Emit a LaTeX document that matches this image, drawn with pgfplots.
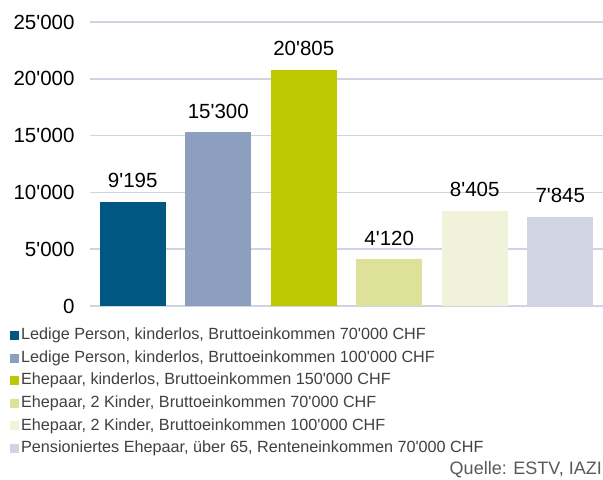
\documentclass[border=0pt]{standalone}
\usepackage{fontspec}
\setmainfont{Liberation Sans}
\usepackage{pgfplots}
\pgfplotsset{compat=1.18}

\definecolor{c1}{RGB}{0,88,130}
\definecolor{c2}{RGB}{140,159,191}
\definecolor{c3}{RGB}{189,200,0}
\definecolor{c4}{RGB}{222,225,154}
\definecolor{c5}{RGB}{240,242,218}
\definecolor{c6}{RGB}{209,213,227}
\definecolor{gridc}{RGB}{208,212,226}
\definecolor{legtext}{RGB}{64,64,64}
\definecolor{srctext}{RGB}{89,89,89}

\newcommand{\ap}{\textquotesingle}

\begin{document}
\begin{tikzpicture}
\begin{axis}[
    name=ax,
    width=513pt, height=284pt, scale only axis,
    xmin=-0.5, xmax=5.5, ymin=0, ymax=25000,
    ybar, bar width=0.77, bar shift=0pt,
    axis line style={draw=none},
    xtick=\empty,
    ytick={0,5000,10000,15000,20000,25000},
    scaled y ticks=false,
    ymajorgrids,
    major grid style={gridc, line width=1.6pt},
    major tick length=0pt,
    /pgf/number format/1000 sep={\ap},
    /pgf/number format/assume math mode=true,
    yticklabel style={font=\fontsize{20.5}{24}\selectfont, text=black, xshift=-12pt},
    nodes near coords,
    nodes near coords style={font=\fontsize{20.5}{24}\selectfont, text=black, anchor=base, yshift=14pt},
    legend style={
        at={(axis description cs:-0.156,-0.072)}, anchor=north west,
        draw=none, fill=none,
        font=\fontsize{16.2}{19}\selectfont, text=legtext,
        cells={anchor=west},
        row sep=5.1pt,
        column sep=1pt,
        inner sep=0pt,
        nodes={inner sep=1pt, text height=12pt, text depth=3.5pt},
    },
    legend image code/.code={\fill[#1] (0pt,-4.5pt) rectangle (9pt,4.5pt);},
    clip=false,
]
\addplot[fill=c1, draw=none] coordinates {(0,9195)};
\addplot[fill=c2, draw=none] coordinates {(1,15300)};
\addplot[fill=c3, draw=none] coordinates {(2,20805)};
\addplot[fill=c4, draw=none] coordinates {(3,4120)};
\addplot[fill=c5, draw=none] coordinates {(4,8405)};
\addplot[fill=c6, draw=none] coordinates {(5,7845)};
\legend{
    Ledige Person{,} kinderlos{,} Bruttoeinkommen 70\ap000 CHF,
    Ledige Person{,} kinderlos{,} Bruttoeinkommen 100\ap000 CHF,
    Ehepaar{,} kinderlos{,} Bruttoeinkommen 150\ap000 CHF,
    Ehepaar{,} 2 Kinder{,} Bruttoeinkommen 70\ap000 CHF,
    Ehepaar{,} 2 Kinder{,} Bruttoeinkommen 100\ap000 CHF,
    Pensioniertes Ehepaar{,} über 65{,} Renteneinkommen 70\ap000 CHF}
\end{axis}
\node[anchor=base east, inner sep=0pt, font=\fontsize{18}{20}\selectfont, text=srctext]
    at ([xshift=-1pt,yshift=-168pt]ax.south east) {Quelle: ESTV, IAZI};
\pgfresetboundingbox
\path[use as bounding box] ([xshift=-90pt,yshift=-174pt]ax.south west) rectangle ([yshift=22pt]ax.north east);
\end{tikzpicture}
\end{document}
